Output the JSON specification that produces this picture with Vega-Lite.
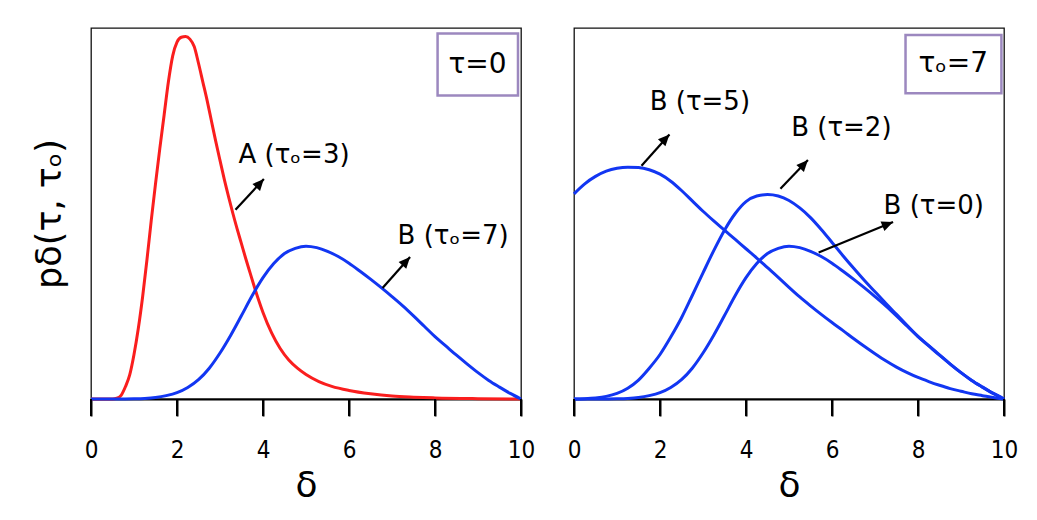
{
  "$schema": "https://vega.github.io/schema/vega-lite/v6.json",
  "background": "white",
  "padding": {"left": 31, "top": 27, "right": 5, "bottom": 5},
  "bounds": "flush",
  "spacing": 53,
  "config": {
    "view": {"stroke": "#111111", "strokeWidth": 1.3},
    "text": {"font": "DejaVu Sans", "fontSize": 26, "color": "black"}
  },
  "datasets": {
    "ticks": [
      {"tick": 0}, {"tick": 2}, {"tick": 4}, {"tick": 6}, {"tick": 8}, {"tick": 10}
    ],
    "curves": [
      {"panel": "L", "series": "A", "delta": 0, "p": 0},
      {"panel": "L", "series": "A", "delta": 0.3, "p": 0},
      {"panel": "L", "series": "A", "delta": 0.5, "p": 0},
      {"panel": "L", "series": "A", "delta": 0.6, "p": 0.002},
      {"panel": "L", "series": "A", "delta": 0.7, "p": 0.01},
      {"panel": "L", "series": "A", "delta": 0.8, "p": 0.033},
      {"panel": "L", "series": "A", "delta": 0.9, "p": 0.065},
      {"panel": "L", "series": "A", "delta": 1.0, "p": 0.12},
      {"panel": "L", "series": "A", "delta": 1.1, "p": 0.19},
      {"panel": "L", "series": "A", "delta": 1.2, "p": 0.275},
      {"panel": "L", "series": "A", "delta": 1.3, "p": 0.374},
      {"panel": "L", "series": "A", "delta": 1.4, "p": 0.48},
      {"panel": "L", "series": "A", "delta": 1.5, "p": 0.58},
      {"panel": "L", "series": "A", "delta": 1.6, "p": 0.675},
      {"panel": "L", "series": "A", "delta": 1.7, "p": 0.765},
      {"panel": "L", "series": "A", "delta": 1.8, "p": 0.855},
      {"panel": "L", "series": "A", "delta": 1.9, "p": 0.925},
      {"panel": "L", "series": "A", "delta": 2.0, "p": 0.962},
      {"panel": "L", "series": "A", "delta": 2.1, "p": 0.975},
      {"panel": "L", "series": "A", "delta": 2.2, "p": 0.977},
      {"panel": "L", "series": "A", "delta": 2.3, "p": 0.97},
      {"panel": "L", "series": "A", "delta": 2.4, "p": 0.95},
      {"panel": "L", "series": "A", "delta": 2.5, "p": 0.905},
      {"panel": "L", "series": "A", "delta": 2.6, "p": 0.855},
      {"panel": "L", "series": "A", "delta": 2.7, "p": 0.805},
      {"panel": "L", "series": "A", "delta": 2.8, "p": 0.75},
      {"panel": "L", "series": "A", "delta": 2.9, "p": 0.695},
      {"panel": "L", "series": "A", "delta": 3.0, "p": 0.643},
      {"panel": "L", "series": "A", "delta": 3.1, "p": 0.592},
      {"panel": "L", "series": "A", "delta": 3.2, "p": 0.545},
      {"panel": "L", "series": "A", "delta": 3.3, "p": 0.5},
      {"panel": "L", "series": "A", "delta": 3.4, "p": 0.458},
      {"panel": "L", "series": "A", "delta": 3.5, "p": 0.418},
      {"panel": "L", "series": "A", "delta": 3.6, "p": 0.378},
      {"panel": "L", "series": "A", "delta": 3.7, "p": 0.34},
      {"panel": "L", "series": "A", "delta": 3.8, "p": 0.302},
      {"panel": "L", "series": "A", "delta": 3.9, "p": 0.266},
      {"panel": "L", "series": "A", "delta": 4.0, "p": 0.233},
      {"panel": "L", "series": "A", "delta": 4.2, "p": 0.178},
      {"panel": "L", "series": "A", "delta": 4.4, "p": 0.136},
      {"panel": "L", "series": "A", "delta": 4.6, "p": 0.105},
      {"panel": "L", "series": "A", "delta": 4.8, "p": 0.083},
      {"panel": "L", "series": "A", "delta": 5.0, "p": 0.066},
      {"panel": "L", "series": "A", "delta": 5.3, "p": 0.047},
      {"panel": "L", "series": "A", "delta": 5.6, "p": 0.034},
      {"panel": "L", "series": "A", "delta": 6.0, "p": 0.023},
      {"panel": "L", "series": "A", "delta": 6.5, "p": 0.014},
      {"panel": "L", "series": "A", "delta": 7.0, "p": 0.008},
      {"panel": "L", "series": "A", "delta": 7.5, "p": 0.005},
      {"panel": "L", "series": "A", "delta": 8.0, "p": 0.003},
      {"panel": "L", "series": "A", "delta": 9.0, "p": 0.001},
      {"panel": "L", "series": "A", "delta": 10, "p": 0},

      {"panel": "L", "series": "B0", "delta": 0, "p": 0},
      {"panel": "L", "series": "B0", "delta": 0.5, "p": 0},
      {"panel": "L", "series": "B0", "delta": 0.75, "p": 0.0002},
      {"panel": "L", "series": "B0", "delta": 1.0, "p": 0.0006},
      {"panel": "L", "series": "B0", "delta": 1.25, "p": 0.0016},
      {"panel": "L", "series": "B0", "delta": 1.5, "p": 0.004},
      {"panel": "L", "series": "B0", "delta": 1.75, "p": 0.009},
      {"panel": "L", "series": "B0", "delta": 2.0, "p": 0.017},
      {"panel": "L", "series": "B0", "delta": 2.25, "p": 0.031},
      {"panel": "L", "series": "B0", "delta": 2.5, "p": 0.052},
      {"panel": "L", "series": "B0", "delta": 2.75, "p": 0.083},
      {"panel": "L", "series": "B0", "delta": 3.0, "p": 0.124},
      {"panel": "L", "series": "B0", "delta": 3.25, "p": 0.172},
      {"panel": "L", "series": "B0", "delta": 3.5, "p": 0.225},
      {"panel": "L", "series": "B0", "delta": 3.75, "p": 0.279},
      {"panel": "L", "series": "B0", "delta": 4.0, "p": 0.327},
      {"panel": "L", "series": "B0", "delta": 4.25, "p": 0.365},
      {"panel": "L", "series": "B0", "delta": 4.5, "p": 0.392},
      {"panel": "L", "series": "B0", "delta": 4.75, "p": 0.406},
      {"panel": "L", "series": "B0", "delta": 5.0, "p": 0.412},
      {"panel": "L", "series": "B0", "delta": 5.25, "p": 0.408},
      {"panel": "L", "series": "B0", "delta": 5.5, "p": 0.398},
      {"panel": "L", "series": "B0", "delta": 5.75, "p": 0.384},
      {"panel": "L", "series": "B0", "delta": 6.0, "p": 0.366},
      {"panel": "L", "series": "B0", "delta": 6.25, "p": 0.345},
      {"panel": "L", "series": "B0", "delta": 6.5, "p": 0.323},
      {"panel": "L", "series": "B0", "delta": 6.75, "p": 0.3},
      {"panel": "L", "series": "B0", "delta": 7.0, "p": 0.276},
      {"panel": "L", "series": "B0", "delta": 7.25, "p": 0.251},
      {"panel": "L", "series": "B0", "delta": 7.5, "p": 0.224},
      {"panel": "L", "series": "B0", "delta": 7.75, "p": 0.196},
      {"panel": "L", "series": "B0", "delta": 8.0, "p": 0.168},
      {"panel": "L", "series": "B0", "delta": 8.25, "p": 0.143},
      {"panel": "L", "series": "B0", "delta": 8.5, "p": 0.118},
      {"panel": "L", "series": "B0", "delta": 8.75, "p": 0.094},
      {"panel": "L", "series": "B0", "delta": 9.0, "p": 0.071},
      {"panel": "L", "series": "B0", "delta": 9.25, "p": 0.05},
      {"panel": "L", "series": "B0", "delta": 9.5, "p": 0.032},
      {"panel": "L", "series": "B0", "delta": 9.75, "p": 0.015},
      {"panel": "L", "series": "B0", "delta": 10, "p": 0},

      {"panel": "R", "series": "B0", "delta": 0, "p": 0},
      {"panel": "R", "series": "B0", "delta": 0.5, "p": 0},
      {"panel": "R", "series": "B0", "delta": 0.75, "p": 0.0002},
      {"panel": "R", "series": "B0", "delta": 1.0, "p": 0.0006},
      {"panel": "R", "series": "B0", "delta": 1.25, "p": 0.0016},
      {"panel": "R", "series": "B0", "delta": 1.5, "p": 0.004},
      {"panel": "R", "series": "B0", "delta": 1.75, "p": 0.009},
      {"panel": "R", "series": "B0", "delta": 2.0, "p": 0.017},
      {"panel": "R", "series": "B0", "delta": 2.25, "p": 0.031},
      {"panel": "R", "series": "B0", "delta": 2.5, "p": 0.052},
      {"panel": "R", "series": "B0", "delta": 2.75, "p": 0.083},
      {"panel": "R", "series": "B0", "delta": 3.0, "p": 0.124},
      {"panel": "R", "series": "B0", "delta": 3.25, "p": 0.172},
      {"panel": "R", "series": "B0", "delta": 3.5, "p": 0.225},
      {"panel": "R", "series": "B0", "delta": 3.75, "p": 0.279},
      {"panel": "R", "series": "B0", "delta": 4.0, "p": 0.327},
      {"panel": "R", "series": "B0", "delta": 4.25, "p": 0.365},
      {"panel": "R", "series": "B0", "delta": 4.5, "p": 0.392},
      {"panel": "R", "series": "B0", "delta": 4.75, "p": 0.406},
      {"panel": "R", "series": "B0", "delta": 5.0, "p": 0.412},
      {"panel": "R", "series": "B0", "delta": 5.25, "p": 0.408},
      {"panel": "R", "series": "B0", "delta": 5.5, "p": 0.398},
      {"panel": "R", "series": "B0", "delta": 5.75, "p": 0.384},
      {"panel": "R", "series": "B0", "delta": 6.0, "p": 0.366},
      {"panel": "R", "series": "B0", "delta": 6.25, "p": 0.345},
      {"panel": "R", "series": "B0", "delta": 6.5, "p": 0.323},
      {"panel": "R", "series": "B0", "delta": 6.75, "p": 0.3},
      {"panel": "R", "series": "B0", "delta": 7.0, "p": 0.276},
      {"panel": "R", "series": "B0", "delta": 7.25, "p": 0.251},
      {"panel": "R", "series": "B0", "delta": 7.5, "p": 0.224},
      {"panel": "R", "series": "B0", "delta": 7.75, "p": 0.196},
      {"panel": "R", "series": "B0", "delta": 8.0, "p": 0.168},
      {"panel": "R", "series": "B0", "delta": 8.25, "p": 0.143},
      {"panel": "R", "series": "B0", "delta": 8.5, "p": 0.118},
      {"panel": "R", "series": "B0", "delta": 8.75, "p": 0.094},
      {"panel": "R", "series": "B0", "delta": 9.0, "p": 0.071},
      {"panel": "R", "series": "B0", "delta": 9.25, "p": 0.05},
      {"panel": "R", "series": "B0", "delta": 9.5, "p": 0.032},
      {"panel": "R", "series": "B0", "delta": 9.75, "p": 0.015},
      {"panel": "R", "series": "B0", "delta": 10, "p": 0},

      {"panel": "R", "series": "B2", "delta": 0, "p": 0},
      {"panel": "R", "series": "B2", "delta": 0.25, "p": 0.001},
      {"panel": "R", "series": "B2", "delta": 0.5, "p": 0.003},
      {"panel": "R", "series": "B2", "delta": 0.75, "p": 0.007},
      {"panel": "R", "series": "B2", "delta": 1.0, "p": 0.015},
      {"panel": "R", "series": "B2", "delta": 1.25, "p": 0.029},
      {"panel": "R", "series": "B2", "delta": 1.5, "p": 0.051},
      {"panel": "R", "series": "B2", "delta": 1.75, "p": 0.083},
      {"panel": "R", "series": "B2", "delta": 2.0, "p": 0.12},
      {"panel": "R", "series": "B2", "delta": 2.25, "p": 0.167},
      {"panel": "R", "series": "B2", "delta": 2.5, "p": 0.219},
      {"panel": "R", "series": "B2", "delta": 2.75, "p": 0.279},
      {"panel": "R", "series": "B2", "delta": 3.0, "p": 0.34},
      {"panel": "R", "series": "B2", "delta": 3.25, "p": 0.4},
      {"panel": "R", "series": "B2", "delta": 3.5, "p": 0.455},
      {"panel": "R", "series": "B2", "delta": 3.75, "p": 0.5},
      {"panel": "R", "series": "B2", "delta": 4.0, "p": 0.532},
      {"panel": "R", "series": "B2", "delta": 4.25, "p": 0.547},
      {"panel": "R", "series": "B2", "delta": 4.5, "p": 0.551},
      {"panel": "R", "series": "B2", "delta": 4.75, "p": 0.547},
      {"panel": "R", "series": "B2", "delta": 5.0, "p": 0.535},
      {"panel": "R", "series": "B2", "delta": 5.25, "p": 0.515},
      {"panel": "R", "series": "B2", "delta": 5.5, "p": 0.489},
      {"panel": "R", "series": "B2", "delta": 5.75, "p": 0.457},
      {"panel": "R", "series": "B2", "delta": 6.0, "p": 0.422},
      {"panel": "R", "series": "B2", "delta": 6.25, "p": 0.387},
      {"panel": "R", "series": "B2", "delta": 6.5, "p": 0.353},
      {"panel": "R", "series": "B2", "delta": 6.75, "p": 0.32},
      {"panel": "R", "series": "B2", "delta": 7.0, "p": 0.289},
      {"panel": "R", "series": "B2", "delta": 7.25, "p": 0.258},
      {"panel": "R", "series": "B2", "delta": 7.5, "p": 0.228},
      {"panel": "R", "series": "B2", "delta": 7.75, "p": 0.198},
      {"panel": "R", "series": "B2", "delta": 8.0, "p": 0.169},
      {"panel": "R", "series": "B2", "delta": 8.25, "p": 0.144},
      {"panel": "R", "series": "B2", "delta": 8.5, "p": 0.119},
      {"panel": "R", "series": "B2", "delta": 8.75, "p": 0.094},
      {"panel": "R", "series": "B2", "delta": 9.0, "p": 0.071},
      {"panel": "R", "series": "B2", "delta": 9.25, "p": 0.05},
      {"panel": "R", "series": "B2", "delta": 9.5, "p": 0.032},
      {"panel": "R", "series": "B2", "delta": 9.75, "p": 0.015},
      {"panel": "R", "series": "B2", "delta": 10, "p": 0},

      {"panel": "R", "series": "B5", "delta": 0, "p": 0.553},
      {"panel": "R", "series": "B5", "delta": 0.25, "p": 0.58},
      {"panel": "R", "series": "B5", "delta": 0.5, "p": 0.6},
      {"panel": "R", "series": "B5", "delta": 0.75, "p": 0.614},
      {"panel": "R", "series": "B5", "delta": 1.0, "p": 0.622},
      {"panel": "R", "series": "B5", "delta": 1.25, "p": 0.625},
      {"panel": "R", "series": "B5", "delta": 1.5, "p": 0.624},
      {"panel": "R", "series": "B5", "delta": 1.75, "p": 0.618},
      {"panel": "R", "series": "B5", "delta": 2.0, "p": 0.606},
      {"panel": "R", "series": "B5", "delta": 2.25, "p": 0.587},
      {"panel": "R", "series": "B5", "delta": 2.5, "p": 0.562},
      {"panel": "R", "series": "B5", "delta": 2.75, "p": 0.534},
      {"panel": "R", "series": "B5", "delta": 3.0, "p": 0.506},
      {"panel": "R", "series": "B5", "delta": 3.25, "p": 0.48},
      {"panel": "R", "series": "B5", "delta": 3.5, "p": 0.455},
      {"panel": "R", "series": "B5", "delta": 3.75, "p": 0.43},
      {"panel": "R", "series": "B5", "delta": 4.0, "p": 0.405},
      {"panel": "R", "series": "B5", "delta": 4.25, "p": 0.38},
      {"panel": "R", "series": "B5", "delta": 4.5, "p": 0.354},
      {"panel": "R", "series": "B5", "delta": 4.75, "p": 0.328},
      {"panel": "R", "series": "B5", "delta": 5.0, "p": 0.301},
      {"panel": "R", "series": "B5", "delta": 5.25, "p": 0.275},
      {"panel": "R", "series": "B5", "delta": 5.5, "p": 0.251},
      {"panel": "R", "series": "B5", "delta": 5.75, "p": 0.228},
      {"panel": "R", "series": "B5", "delta": 6.0, "p": 0.206},
      {"panel": "R", "series": "B5", "delta": 6.25, "p": 0.185},
      {"panel": "R", "series": "B5", "delta": 6.5, "p": 0.163},
      {"panel": "R", "series": "B5", "delta": 6.75, "p": 0.142},
      {"panel": "R", "series": "B5", "delta": 7.0, "p": 0.122},
      {"panel": "R", "series": "B5", "delta": 7.25, "p": 0.103},
      {"panel": "R", "series": "B5", "delta": 7.5, "p": 0.086},
      {"panel": "R", "series": "B5", "delta": 7.75, "p": 0.071},
      {"panel": "R", "series": "B5", "delta": 8.0, "p": 0.058},
      {"panel": "R", "series": "B5", "delta": 8.25, "p": 0.047},
      {"panel": "R", "series": "B5", "delta": 8.5, "p": 0.037},
      {"panel": "R", "series": "B5", "delta": 8.75, "p": 0.028},
      {"panel": "R", "series": "B5", "delta": 9.0, "p": 0.021},
      {"panel": "R", "series": "B5", "delta": 9.25, "p": 0.014},
      {"panel": "R", "series": "B5", "delta": 9.5, "p": 0.009},
      {"panel": "R", "series": "B5", "delta": 9.75, "p": 0.004},
      {"panel": "R", "series": "B5", "delta": 10, "p": 0}
    ],
    "labels": [
      {"panel": "L", "label": "A (τₒ=3)", "delta": 3.43, "p": 0.637},
      {"panel": "L", "label": "B (τₒ=7)", "delta": 7.13, "p": 0.418},
      {"panel": "R", "label": "B (τ=5)", "delta": 1.76, "p": 0.778},
      {"panel": "R", "label": "B (τ=2)", "delta": 5.05, "p": 0.708},
      {"panel": "R", "label": "B (τ=0)", "delta": 7.2, "p": 0.498}
    ],
    "arrows": [
      {"panel": "L", "id": "A", "delta": 3.36, "p": 0.51, "delta2": 4.02, "p2": 0.593},
      {"panel": "L", "id": "B", "delta": 6.78, "p": 0.299, "delta2": 7.42, "p2": 0.383},
      {"panel": "R", "id": "t5", "delta": 1.57, "p": 0.629, "delta2": 2.22, "p2": 0.713},
      {"panel": "R", "id": "t2", "delta": 4.8, "p": 0.567, "delta2": 5.44, "p2": 0.644},
      {"panel": "R", "id": "t0", "delta": 5.69, "p": 0.395, "delta2": 7.42, "p2": 0.477}
    ],
    "boxes": [
      {"panel": "L", "label": "τ=0", "x1": 8.06, "x2": 9.93, "y1": 0.818, "y2": 0.985, "cx": 8.99, "cy": 0.9},
      {"panel": "R", "label": "τₒ=7", "x1": 7.71, "x2": 9.94, "y1": 0.824, "y2": 0.981, "cx": 8.82, "cy": 0.903}
    ]
  },
  "hconcat": [
    {
      "width": 430,
      "height": 371,
      "layer": [
        {
          "data": {"name": "curves"},
          "transform": [{"filter": "datum.panel == 'L'"}],
          "mark": {"type": "line", "strokeWidth": 3, "interpolate": "monotone"},
          "encoding": {
            "x": {"field": "delta", "type": "quantitative", "scale": {"domain": [0, 10], "nice": false},
              "axis": {"title": "δ", "values": [0, 2, 4, 6, 8, 10], "format": "d", "grid": false,
                "domain": true, "domainColor": "black", "domainWidth": 2,
                "ticks": true, "tickColor": "black", "tickSize": 17, "tickWidth": 2,
                "labelFont": "DejaVu Sans Condensed", "labelFontSize": 24, "labelColor": "black", "labelPadding": 22, "labelFlush": false, "labelOverlap": false,
                "titleFont": "DejaVu Sans", "titleFontSize": 36, "titleFontWeight": "normal", "titleColor": "black", "titlePadding": 6}},
            "y": {"field": "p", "type": "quantitative", "scale": {"domain": [0, 1], "nice": false},
              "axis": {"title": "pδ(τ, τₒ)", "domain": false, "ticks": false, "labels": false, "grid": false,
                "titleFont": "DejaVu Sans", "titleFontSize": 35, "titleFontWeight": "normal", "titleColor": "black", "titlePadding": 24}},
            "color": {"field": "series", "type": "nominal", "scale": {"domain": ["A", "B0", "B2", "B5"], "range": ["#fa1e1e", "#1236f2", "#1236f2", "#1236f2"]}, "legend": null}
          }
        },
        {
          "data": {"name": "ticks"},
          "mark": {"type": "rule", "color": "black", "strokeWidth": 2, "clip": false},
          "encoding": {
            "x": {"field": "tick", "type": "quantitative"},
            "y": {"datum": 0},
            "y2": {"datum": -0.046}
          }
        },
        {
          "data": {"name": "boxes"},
          "transform": [{"filter": "datum.panel == 'L'"}],
          "mark": {"type": "rect", "fill": null, "fillOpacity": 0, "stroke": "#9c88bf", "strokeWidth": 2.5},
          "encoding": {
            "x": {"field": "x1", "type": "quantitative"},
            "x2": {"field": "x2"},
            "y": {"field": "y1", "type": "quantitative"},
            "y2": {"field": "y2"}
          }
        },
        {
          "data": {"name": "boxes"},
          "transform": [{"filter": "datum.panel == 'L'"}],
          "mark": {"type": "text", "fontSize": 28, "align": "center", "baseline": "middle"},
          "encoding": {
            "x": {"field": "cx", "type": "quantitative"},
            "y": {"field": "cy", "type": "quantitative"},
            "text": {"field": "label"}
          }
        },
        {
          "data": {"name": "labels"},
          "transform": [{"filter": "datum.panel == 'L'"}],
          "mark": {"type": "text", "align": "left", "baseline": "alphabetic"},
          "encoding": {
            "x": {"field": "delta", "type": "quantitative"},
            "y": {"field": "p", "type": "quantitative"},
            "text": {"field": "label"}
          }
        },
        {
          "data": {"name": "arrows"},
          "transform": [{"filter": "datum.panel == 'L'"}],
          "mark": {"type": "rule", "color": "black", "strokeWidth": 2.2},
          "encoding": {
            "x": {"field": "delta", "type": "quantitative"},
            "y": {"field": "p", "type": "quantitative"},
            "x2": {"field": "delta2"},
            "y2": {"field": "p2"}
          }
        },
        {
          "data": {"name": "arrows"},
          "transform": [{"filter": "datum.panel == 'L'"}],
          "mark": {"type": "point", "shape": "M0,0 L0.9,2 L-0.9,2 Z", "filled": true, "color": "black", "opacity": 1, "size": 130, "angle": 42},
          "encoding": {
            "x": {"field": "delta2", "type": "quantitative"},
            "y": {"field": "p2", "type": "quantitative"}
          }
        }
      ]
    },
    {
      "width": 430,
      "height": 371,
      "layer": [
        {
          "data": {"name": "curves"},
          "transform": [{"filter": "datum.panel == 'R'"}],
          "mark": {"type": "line", "strokeWidth": 3, "interpolate": "monotone"},
          "encoding": {
            "x": {"field": "delta", "type": "quantitative", "scale": {"domain": [0, 10], "nice": false},
              "axis": {"title": "δ", "values": [0, 2, 4, 6, 8, 10], "format": "d", "grid": false,
                "domain": true, "domainColor": "black", "domainWidth": 2,
                "ticks": true, "tickColor": "black", "tickSize": 17, "tickWidth": 2,
                "labelFont": "DejaVu Sans Condensed", "labelFontSize": 24, "labelColor": "black", "labelPadding": 22, "labelFlush": false, "labelOverlap": false,
                "titleFont": "DejaVu Sans", "titleFontSize": 36, "titleFontWeight": "normal", "titleColor": "black", "titlePadding": 6}},
            "y": {"field": "p", "type": "quantitative", "scale": {"domain": [0, 1], "nice": false},
              "axis": {"title": null, "domain": false, "ticks": false, "labels": false, "grid": false}},
            "color": {"field": "series", "type": "nominal", "scale": {"domain": ["A", "B0", "B2", "B5"], "range": ["#fa1e1e", "#1236f2", "#1236f2", "#1236f2"]}, "legend": null}
          }
        },
        {
          "data": {"name": "ticks"},
          "mark": {"type": "rule", "color": "black", "strokeWidth": 2, "clip": false},
          "encoding": {
            "x": {"field": "tick", "type": "quantitative"},
            "y": {"datum": 0},
            "y2": {"datum": -0.046}
          }
        },
        {
          "data": {"name": "boxes"},
          "transform": [{"filter": "datum.panel == 'R'"}],
          "mark": {"type": "rect", "fill": null, "fillOpacity": 0, "stroke": "#9c88bf", "strokeWidth": 2.5},
          "encoding": {
            "x": {"field": "x1", "type": "quantitative"},
            "x2": {"field": "x2"},
            "y": {"field": "y1", "type": "quantitative"},
            "y2": {"field": "y2"}
          }
        },
        {
          "data": {"name": "boxes"},
          "transform": [{"filter": "datum.panel == 'R'"}],
          "mark": {"type": "text", "fontSize": 28, "align": "center", "baseline": "middle"},
          "encoding": {
            "x": {"field": "cx", "type": "quantitative"},
            "y": {"field": "cy", "type": "quantitative"},
            "text": {"field": "label"}
          }
        },
        {
          "data": {"name": "labels"},
          "transform": [{"filter": "datum.panel == 'R'"}],
          "mark": {"type": "text", "align": "left", "baseline": "alphabetic"},
          "encoding": {
            "x": {"field": "delta", "type": "quantitative"},
            "y": {"field": "p", "type": "quantitative"},
            "text": {"field": "label"}
          }
        },
        {
          "data": {"name": "arrows"},
          "transform": [{"filter": "datum.panel == 'R'"}],
          "mark": {"type": "rule", "color": "black", "strokeWidth": 2.2},
          "encoding": {
            "x": {"field": "delta", "type": "quantitative"},
            "y": {"field": "p", "type": "quantitative"},
            "x2": {"field": "delta2"},
            "y2": {"field": "p2"}
          }
        },
        {
          "data": {"name": "arrows"},
          "transform": [{"filter": "datum.panel == 'R' && datum.id != 't0'"}],
          "mark": {"type": "point", "shape": "M0,0 L0.9,2 L-0.9,2 Z", "filled": true, "color": "black", "opacity": 1, "size": 130, "angle": 43},
          "encoding": {
            "x": {"field": "delta2", "type": "quantitative"},
            "y": {"field": "p2", "type": "quantitative"}
          }
        },
        {
          "data": {"name": "arrows"},
          "transform": [{"filter": "datum.id == 't0'"}],
          "mark": {"type": "point", "shape": "M0,0 L0.9,2 L-0.9,2 Z", "filled": true, "color": "black", "opacity": 1, "size": 130, "angle": 67.8},
          "encoding": {
            "x": {"field": "delta2", "type": "quantitative"},
            "y": {"field": "p2", "type": "quantitative"}
          }
        }
      ]
    }
  ]
}
